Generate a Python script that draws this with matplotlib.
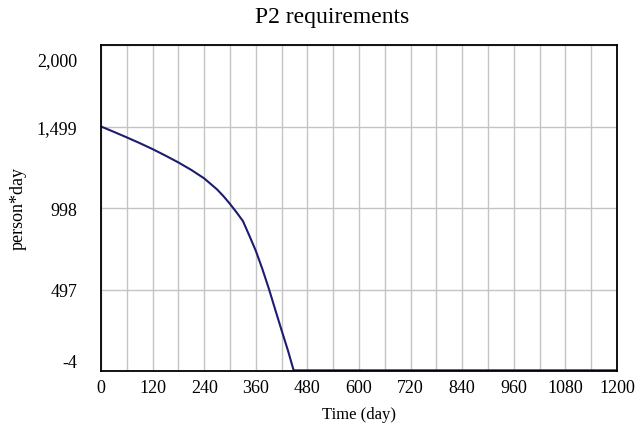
import matplotlib
matplotlib.use("Agg")
import matplotlib.pyplot as plt
import matplotlib.transforms as mtransforms
from matplotlib.ticker import MultipleLocator

# data
time_days = [0, 30, 60, 90, 120, 150, 180, 210, 240, 270, 285, 300, 315, 330,
             345, 360, 375, 390, 405, 420, 435, 448, 480, 600, 720, 840, 960,
             1080, 1200]
p2_req = [1499, 1466, 1432, 1397, 1360, 1320, 1278, 1232, 1180, 1112, 1070, 1023,
          972, 918, 828, 735, 625, 505, 375, 246, 120, 0, 0, 0, 0, 0, 0, 0, 0]

y_ticks = [-4, 497, 998, 1499, 2000]
y_tick_labels = ["-4", "497", "998", "1,499", "2,000"]
x_ticks = list(range(0, 1201, 120))

plt.rcParams['font.family'] = ['Liberation Serif', 'DejaVu Serif']

fig = plt.figure(figsize=(6.39, 4.31), dpi=100)
ax = fig.add_axes([101 / 639, 1 - 372 / 431, 516 / 639, 326 / 431])

ax.plot(time_days, p2_req, color='#1c1c70', lw=1.5)

ax.set_xlim(0, 1200)
ax.set_ylim(-4, 2000)
ax.set_xticks(x_ticks)
ax.xaxis.set_minor_locator(MultipleLocator(60))
ax.set_yticks(y_ticks)
ax.set_yticklabels(y_tick_labels)

ax.grid(True, which='both', axis='x', color='#c4c4c4', lw=1.0)
ax.grid(True, which='major', axis='y', color='#c4c4c4', lw=1.0)
ax.set_axisbelow(True)

ax.tick_params(axis='both', which='both', length=0, labelsize=13)
ax.tick_params(axis='y', pad=17)
ax.tick_params(axis='x', pad=6)

for s in ax.spines.values():
    s.set_color('black')
    s.set_linewidth(1.3)

# top/bottom y labels sit inside the plot range, like the source
ylabs = ax.get_yticklabels()
ylabs[0].set_verticalalignment('bottom')
ylabs[-1].set_transform(ylabs[-1].get_transform() +
                        mtransforms.ScaledTranslation(0, -14 / 100, fig.dpi_scale_trans))

ax.set_xlabel('Time (day)', fontsize=12, labelpad=7)
ax.set_ylabel('person*day', fontsize=13)
ax.yaxis.set_label_coords(-(101 - 27) / 516, (372 - 208) / 326)

fig.text(332 / 639, 1 - 18 / 431, 'P2 requirements', fontsize=17,
         ha='center', va='center')

fig.savefig('out.png', dpi=100)
